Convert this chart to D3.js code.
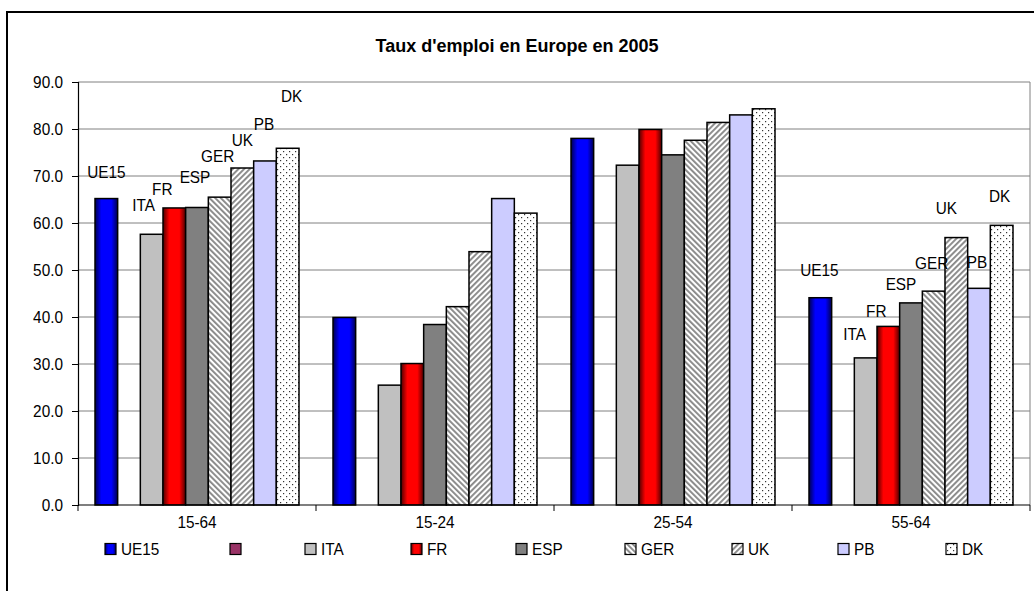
<!DOCTYPE html>
<html>
<head>
<meta charset="utf-8">
<script src="https://cdn.jsdelivr.net/npm/d3@7"></script>
<style>
  html, body { margin: 0; padding: 0; background: #fff; }
  svg { display: block; font-family: "Liberation Sans", Arial, sans-serif; }
</style>
</head>
<body>
<svg id="chart" width="1034" height="591"></svg>
<script>
// ---- data ----
const title = "Taux d'emploi en Europe en 2005";
const categories = ["15-64", "15-24", "25-54", "55-64"];
const seriesNames = ["UE15", "", "ITA", "FR", "ESP", "GER", "UK", "PB", "DK"];
const ue15 = [65.2, 39.9, 78.0, 44.1];
const blank = [null, null, null, null];
const ita = [57.6, 25.5, 72.3, 31.3];
const fr = [63.2, 30.1, 79.9, 38.0];
const esp = [63.3, 38.4, 74.5, 43.0];
const ger = [65.5, 42.2, 77.6, 45.5];
const uk = [71.7, 53.9, 81.4, 56.9];
const pb = [73.2, 65.2, 83.0, 46.1];
const dk = [75.9, 62.1, 84.3, 59.5];
const seriesValues = [ue15, blank, ita, fr, esp, ger, uk, pb, dk];
const yTicks = [0, 10, 20, 30, 40, 50, 60, 70, 80, 90];
// groups whose bars carry their series name as a label
const labelledGroups = ["15-64", "55-64"];

// ---- layout ----
const plot = { left: 78, right: 1030, top: 82, bottom: 505 };
const textSize = 16.5;
const narrow = 0.93;   // horizontal squeeze applied to plain text
const fills = ["url(#gradBlue)", "#993366", "#c0c0c0", "url(#gradRed)", "#808080",
               "url(#stripeDown)", "url(#stripeUp)", "#ccccff", "url(#dots)"];
// name label offsets from each bar's top centre, per labelled group
const labelOffsets = {
  "15-64": [[0, -27], null, [-8, -29], [-12, -19], [-2, -30], [-2, -41], [0, -28], [-1, -37], [4, -52]],
  "55-64": [[-1, -28], null, [-11, -24], [-12, -15], [-10, -19], [-2, -28], [-10, -30], [-2, -26], [-2, -29]]
};
const legendX = [105, 230, 305, 411, 516, 625, 732, 838, 946];
const legendY = 549;

const svg = d3.select("#chart");
const defs = svg.append("defs");

// squeeze text horizontally to a narrower set width
function condense(sel) {
  sel.each(function () {
    const w = this.getComputedTextLength();
    if (w > 0) d3.select(this).attr("textLength", w * narrow).attr("lengthAdjust", "spacingAndGlyphs");
  });
}

function cylinder(id, edge, mid) {
  const g = defs.append("linearGradient").attr("id", id)
    .attr("x1", "0%").attr("x2", "100%").attr("y1", "0%").attr("y2", "0%");
  g.append("stop").attr("offset", "0%").attr("stop-color", edge);
  g.append("stop").attr("offset", "28%").attr("stop-color", mid);
  g.append("stop").attr("offset", "72%").attr("stop-color", mid);
  g.append("stop").attr("offset", "100%").attr("stop-color", edge);
}
cylinder("gradBlue", "#000050", "#0000ff");
cylinder("gradRed", "#500000", "#ff0000");

function stripes(id, angle) {
  const p = defs.append("pattern").attr("id", id)
    .attr("patternUnits", "userSpaceOnUse").attr("width", 4).attr("height", 4)
    .attr("patternTransform", `rotate(${angle})`);
  p.append("rect").attr("width", 4).attr("height", 4).attr("fill", "#fff");
  p.append("rect").attr("x", 0).attr("width", 1.9).attr("height", 4).attr("fill", "#888");
}
stripes("stripeDown", -45);
stripes("stripeUp", 45);

const dp = defs.append("pattern").attr("id", "dots")
  .attr("patternUnits", "userSpaceOnUse").attr("width", 6).attr("height", 6);
dp.append("rect").attr("width", 6).attr("height", 6).attr("fill", "#fff");
dp.append("rect").attr("x", 1).attr("y", 1).attr("width", 1.2).attr("height", 1.2).attr("fill", "#333");
dp.append("rect").attr("x", 4).attr("y", 4).attr("width", 1.2).attr("height", 1.2).attr("fill", "#333");

// outer chart frame
svg.append("rect").attr("x", 7).attr("y", 12).attr("width", 1040).attr("height", 600)
  .attr("fill", "none").attr("stroke", "#000").attr("stroke-width", 2);

// title
svg.append("text").attr("x", 517).attr("y", 46).attr("text-anchor", "middle")
  .attr("dominant-baseline", "central")
  .attr("font-weight", "bold").attr("font-size", 18).text(title);

// scales
const y = d3.scaleLinear().domain([0, 90]).range([plot.bottom, plot.top]);
const x0 = d3.scaleBand().domain(categories).range([plot.left, plot.right]).padding(0);
const x1 = d3.scaleBand().domain(d3.range(seriesNames.length))
  .range([0, x0.bandwidth()]).paddingInner(0).paddingOuter(0.75);

// gridlines and plot frame
svg.append("g").selectAll("line").data(yTicks.slice(1)).join("line")
  .attr("x1", plot.left).attr("x2", plot.right)
  .attr("y1", d => y(d)).attr("y2", d => y(d))
  .attr("stroke", "#808080").attr("stroke-width", 1);
svg.append("line").attr("x1", plot.right).attr("x2", plot.right)
  .attr("y1", plot.top).attr("y2", plot.bottom).attr("stroke", "#808080");

// bars
const groups = svg.append("g").selectAll("g").data(categories).join("g")
  .attr("transform", d => `translate(${x0(d)},0)`);
groups.each(function (cat, ci) {
  const g = d3.select(this);
  seriesNames.forEach((name, si) => {
    const v = seriesValues[si][ci];
    if (v == null) return;
    g.append("rect")
      .attr("x", x1(si)).attr("width", x1.bandwidth())
      .attr("y", y(v)).attr("height", y(0) - y(v))
      .attr("fill", fills[si]).attr("stroke", "#000").attr("stroke-width", 1.5);
  });
});

// series-name labels
labelledGroups.forEach(cat => {
  const ci = categories.indexOf(cat);
  seriesNames.forEach((name, si) => {
    const v = seriesValues[si][ci];
    if (v == null || !name) return;
    const off = labelOffsets[cat][si];
    svg.append("text").attr("class", "plain")
      .attr("x", x0(cat) + x1(si) + x1.bandwidth() / 2 + off[0])
      .attr("y", y(v) + off[1])
      .attr("text-anchor", "middle").attr("dominant-baseline", "central")
      .attr("font-size", textSize).text(name);
  });
});

// axes
const yAxis = d3.axisLeft(y).tickValues(yTicks).tickFormat(d3.format(".1f"))
  .tickSize(6).tickPadding(9);
svg.append("g").attr("transform", `translate(${plot.left},0)`).call(yAxis)
  .attr("font-size", textSize).attr("font-family", "Liberation Sans, Arial, sans-serif")
  .call(g => g.select(".domain").attr("stroke", "#000").attr("stroke-width", 1.2))
  .call(g => g.selectAll(".tick line").attr("stroke", "#000"))
  .call(g => g.selectAll("text").attr("class", "plain").attr("fill", "#000"));

const xAxisG = svg.append("g").attr("transform", `translate(0,${plot.bottom})`);
xAxisG.append("line").attr("x1", plot.left).attr("x2", plot.right)
  .attr("stroke", "#000").attr("stroke-width", 1.2);
xAxisG.selectAll("line.tk").data(d3.range(categories.length + 1)).join("line")
  .attr("class", "tk")
  .attr("x1", i => plot.left + i * x0.step()).attr("x2", i => plot.left + i * x0.step())
  .attr("y1", 0).attr("y2", 6).attr("stroke", "#000");
xAxisG.selectAll("text").data(categories).join("text").attr("class", "plain")
  .attr("x", d => x0(d) + x0.bandwidth() / 2).attr("y", 17)
  .attr("text-anchor", "middle").attr("dominant-baseline", "central")
  .attr("font-size", textSize).text(d => d);

// legend
const legend = svg.append("g").selectAll("g").data(seriesNames).join("g")
  .attr("transform", (d, i) => `translate(${legendX[i]},${legendY})`);
legend.append("rect").attr("x", 0).attr("y", -5.5).attr("width", 11).attr("height", 11)
  .attr("fill", (d, i) => fills[i]).attr("stroke", "#000").attr("stroke-width", 1.2);
legend.append("text").attr("class", "plain").attr("x", 16).attr("y", 0)
  .attr("dominant-baseline", "central")
  .attr("font-size", textSize).text(d => d);

svg.selectAll("text.plain").call(condense);
</script>
</body>
</html>
